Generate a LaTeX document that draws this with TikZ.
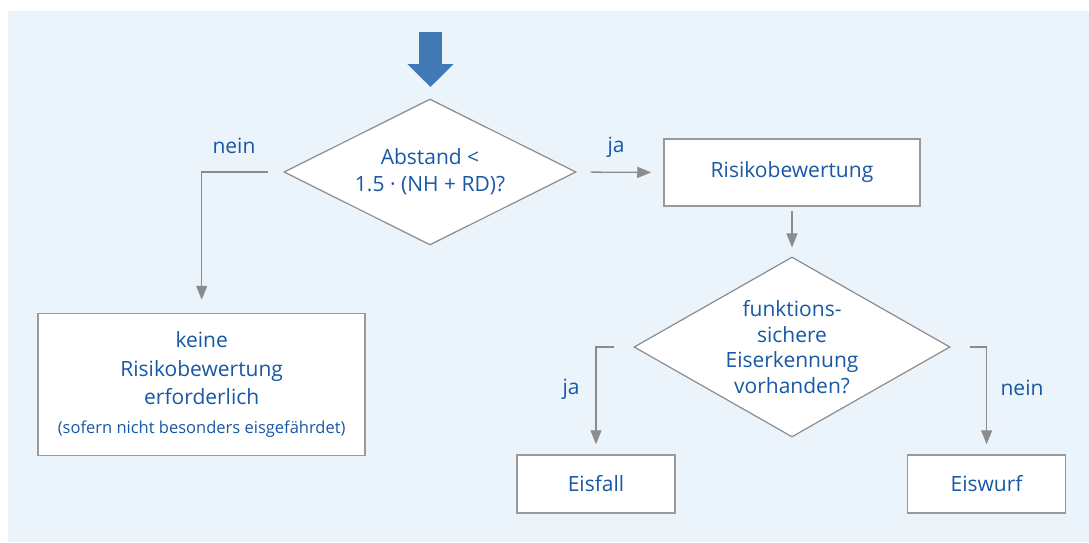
\documentclass[tikz,border=0pt]{standalone}
\usepackage{fontspec}
\setmainfont{Open Sans}
\usetikzlibrary{shapes.geometric,arrows.meta}
\definecolor{bgblue}{HTML}{EBF4FB}
\definecolor{txtblue}{HTML}{1858A4}
\definecolor{arrblue}{HTML}{4079B4}
\definecolor{linegray}{HTML}{8C8C8C}
\definecolor{boxgray}{HTML}{9A9A9A}

\begin{document}
\begin{tikzpicture}[x=1pt, y=-1pt,
  font=\fontsize{21}{27}\selectfont, text=txtblue,
  box/.style={draw=boxgray, line width=1.5pt, fill=white, align=center, inner sep=0pt},
  frage/.style={diamond, draw=linegray, line width=1.2pt, fill=white, align=center, inner sep=0pt},
  conn/.style={draw=linegray, line width=1.3pt, -{Triangle[length=14pt,width=11pt]}},
  lab/.style={inner sep=0pt}]

\useasboundingbox (0,0) rectangle (1089,542);
\fill[bgblue] (8,11) rectangle (1089,542);

% Einstieg
\coordinate (start) at (430.5,32);
\coordinate (eingang) at (430.5,87);
\draw[arrblue, line width=23pt, -{Triangle[length=23pt,width=45pt]}] (start) -- (eingang);

% Knoten
\node[frage, aspect=2, minimum width=292pt, minimum height=146pt] (abstand) at (430,172) {Abstand <\\1.5 · (NH + RD)?};
\node[box, minimum width=256pt, minimum height=67pt] (risiko) at (792,172.5) {Risikobewertung};
\node[box, minimum width=327pt, minimum height=142pt, font=\fontsize{21}{28.5}\selectfont] (keine) at (201.7,384.5)
  {keine\\Risikobewertung\\erforderlich\\{\fontsize{16.5}{22}\selectfont (sofern nicht besonders eisgefährdet)}};
\node[frage, aspect=1.76, minimum width=316pt, minimum height=180pt, font=\fontsize{21}{25.5}\selectfont] (eiserk) at (792,347)
  {funktions-\\sichere\\Eiserkennung\\vorhanden?};
\node[box, minimum width=158pt, minimum height=58pt] (eisfall) at (596,484) {Eisfall};
\node[box, minimum width=158pt, minimum height=58pt] (eiswurf) at (986.6,484) {Eiswurf};

% Beschriftungen
\node[lab] (nein1) at (234,146) {nein};
\node[lab] (ja1) at (616,147) {ja};
\node[lab] (ja2) at (571,389) {ja};
\node[lab] (nein2) at (1022,388) {nein};

% Pfeile
\draw[conn, shorten <=15pt, shorten >=13pt] (abstand.west) -| (keine.north);
\draw[conn, shorten <=14pt, shorten >=12pt] (abstand.east) -- (risiko.west);
\draw[conn, shorten <=4pt, shorten >=9pt] (risiko.south) -- (eiserk.north);
\draw[conn, shorten <=19pt, shorten >=10pt] (eiserk.west) -| (eisfall.north);
\draw[conn, shorten <=19pt, shorten >=10pt] (eiserk.east) -| (eiswurf.north);

\end{tikzpicture}
\end{document}
